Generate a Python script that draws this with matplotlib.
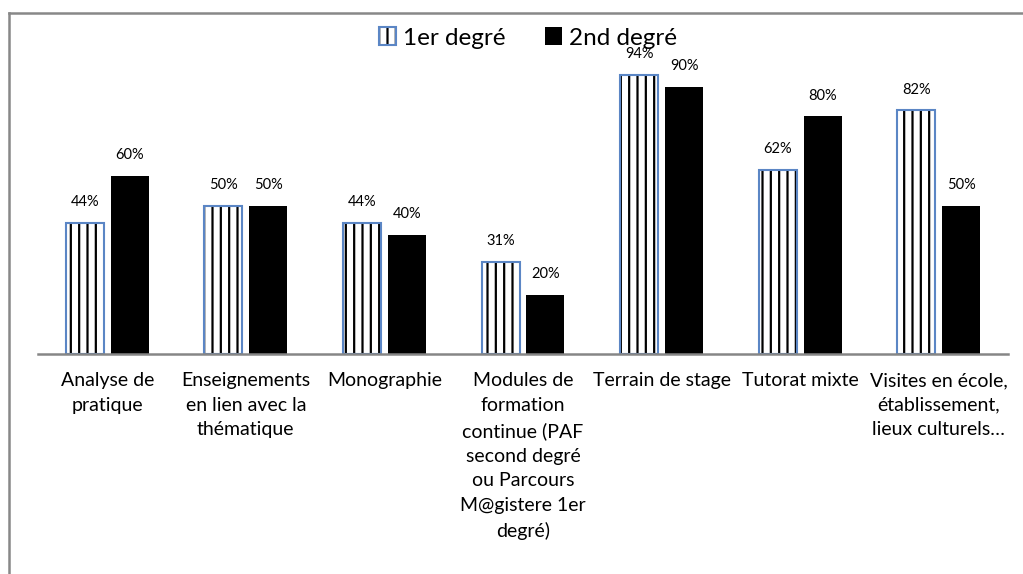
import matplotlib.pyplot as plt
from matplotlib.lines import Line2D
from matplotlib.patches import Patch
from matplotlib.legend_handler import HandlerTuple
import numpy as np

categories = [
    "Analyse de\npratique",
    "Enseignements\nen lien avec la\nthématique",
    "Monographie",
    "Modules de\nformation\ncontinue (PAF\nsecond degré\nou Parcours\nM@gistere 1er\ndegré)",
    "Terrain de stage",
    "Tutorat mixte",
    "Visites en école,\nétablissement,\nlieux culturels…",
]
premier = [44, 50, 44, 31, 94, 62, 82]
second = [60, 50, 40, 20, 90, 80, 50]
series_names = ["1er degré", "2nd degré"]

plt.rcParams['font.family'] = ['Lato', 'DejaVu Sans']
plt.rcParams['hatch.linewidth'] = 1.6

blue_edge = '#5b86c5'
fig = plt.figure(figsize=(10.23, 5.74), dpi=100)
ax = fig.add_axes([38 / 1023, 1 - 354 / 574, 970 / 1023, 297 / 574])

x = np.arange(len(categories))
w = 0.274
gap = 0.05
x1 = x - gap / 2 - w / 2
x2 = x + gap / 2 + w / 2

# striped bars: black hatch on white, then blue outline on top
ax.bar(x1, premier, w, color='white', edgecolor='black', hatch='||', linewidth=0)
ax.bar(x1, premier, w, fill=False, edgecolor=blue_edge, linewidth=1.5)
ax.bar(x2, second, w, color='black', linewidth=0)

for xs, vals in ((x1, premier), (x2, second)):
    for xi, v in zip(xs, vals):
        ax.annotate(f"{v}%", (xi, v), xytext=(0, 10), textcoords='offset points',
                    ha='center', va='bottom', fontsize=10.5)

ax.set_xlim(-0.5, len(categories) - 0.5)
ax.set_ylim(0, 100)
ax.set_yticks([])
ax.set_xticks(x)
ax.set_xticklabels(categories, fontsize=14, linespacing=1.55)
ax.tick_params(axis='x', length=0, pad=13)
for s in ('top', 'right', 'left'):
    ax.spines[s].set_visible(False)
ax.spines['bottom'].set_color('#868686')
ax.spines['bottom'].set_linewidth(1.8)

h1 = (Patch(facecolor='white', edgecolor='black', hatch='||', linewidth=0),
      Patch(fill=False, edgecolor=blue_edge, linewidth=1.5))
h2 = Patch(facecolor='black', linewidth=0)
fig.legend([h1, h2], series_names, handler_map={tuple: HandlerTuple(ndivide=1)},
           loc='center', bbox_to_anchor=(528 / 1023, 1 - 38 / 574), ncol=2, frameon=False,
           fontsize=17.5, handlelength=0.7, handleheight=0.7, handletextpad=0.3,
           columnspacing=1.6)

# chart frame (top and left edges visible)
fig.add_artist(Line2D([9 / 1023, 1], [1 - 13 / 574] * 2, color='#888888', linewidth=1.8))
fig.add_artist(Line2D([9 / 1023] * 2, [0, 1 - 13 / 574], color='#888888', linewidth=1.8))

fig.savefig('out.png', dpi=100)
